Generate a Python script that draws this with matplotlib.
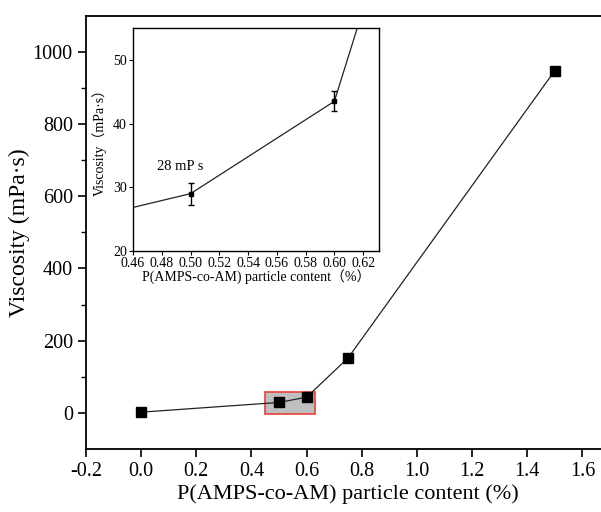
import numpy as np
import matplotlib.pyplot as plt
from matplotlib.patches import Rectangle

plt.rcParams['font.family'] = ['Liberation Serif', 'DejaVu Serif']
plt.rcParams['mathtext.fontset'] = 'stix'

# data
content = np.array([0.0, 0.5, 0.6, 0.75, 1.5])
viscosity = np.array([2, 29, 43.5, 152, 948])

inset_x = np.array([0.5, 0.6])
inset_y = np.array([29, 43.5])
inset_err = np.array([1.75, 1.6])

fig = plt.figure(figsize=(6.01, 5.12), dpi=100)
W, H = 601, 512

# main axes (right part runs off the canvas, as in the reference)
ax = fig.add_axes([86 / W, 1 - 449 / H, (610 - 86) / W, (449 - 15.7) / H])
ax.plot(content, viscosity, color='#222222', lw=0.9, zorder=2)
ax.plot(content, viscosity, 's', color='black', ms=7, zorder=3)
ax.add_patch(Rectangle((0.45, -3), 0.18, 61, facecolor='#bfbfbf',
                       edgecolor='#e8403a', lw=1.2, zorder=1))

ax.set_xlim(-0.2, 1.7)
ax.set_ylim(-100, 1100)
ax.set_xticks(np.arange(-0.2, 1.61, 0.2))
ax.set_xticklabels(['-0.2', '0.0', '0.2', '0.4', '0.6', '0.8', '1.0', '1.2', '1.4', '1.6'])
ax.set_yticks([0, 200, 400, 600, 800, 1000])
ax.set_yticks(np.arange(100, 1000, 200), minor=True)
ax.tick_params(axis='both', which='major', direction='out', length=6, width=1.2, labelsize=14.5)
ax.tick_params(axis='y', which='minor', direction='out', length=3.5, width=1.0)
for s in ax.spines.values():
    s.set_linewidth(1.3)
ax.set_xlabel('P(AMPS-co-AM) particle content (%)', fontsize=16, labelpad=2)
ax.set_ylabel('Viscosity (mPa·s)', fontsize=17, labelpad=2)

# inset
axi = fig.add_axes([133 / W, 1 - 251 / H, (379 - 133) / W, (251 - 28) / H])
axi.plot(content, viscosity, color='#222222', lw=0.9)
axi.errorbar(inset_x, inset_y, yerr=inset_err, fmt='s', color='black',
             ms=3.5, elinewidth=1.0, capsize=2.5)
axi.text(0.477, 33.3, '28 mP s', fontsize=10.5, va='center')
axi.set_xlim(0.46, 0.631)
axi.set_ylim(20, 55)
axi.set_xticks(np.arange(0.46, 0.621, 0.02))
axi.set_xticklabels(['%.2f' % v for v in np.arange(0.46, 0.621, 0.02)])
axi.set_yticks([20, 30, 40, 50])
axi.tick_params(direction='out', length=3, width=0.8, labelsize=10, pad=1.5)
for s in axi.spines.values():
    s.set_linewidth(1.0)
axi.set_xlabel('P(AMPS-co-AM) particle content（%）', fontsize=10, labelpad=0,
               family=['Liberation Serif', 'Noto Sans CJK SC'])
axi.set_ylabel('Viscosity（mPa·s）', fontsize=10, labelpad=4,
               family=['Liberation Serif', 'Noto Sans CJK SC'])

fig.savefig('out.png', dpi=100)
